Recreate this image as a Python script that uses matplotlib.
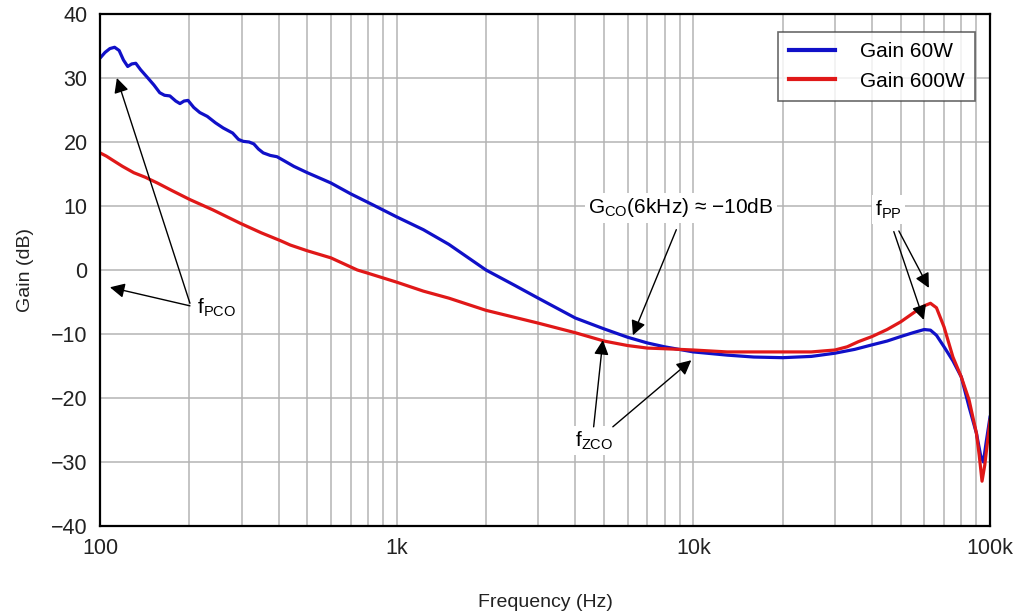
import matplotlib
matplotlib.use("Agg")
import matplotlib.pyplot as plt
from matplotlib.ticker import FixedLocator, FixedFormatter, LogLocator, NullFormatter

plt.rcParams['font.family'] = ['Liberation Sans', 'DejaVu Sans']

# ---- data ----
freq_60w = [100, 104, 108, 112, 116, 120, 124, 128, 132, 137, 145, 152, 159, 165, 172, 180, 186,
            192, 198, 207, 217, 230, 245, 260, 280, 293, 304, 318, 330, 342, 355, 375, 395, 420,
            450, 500, 567, 600, 700, 830, 1000, 1230, 1500, 2000, 2500, 3000, 4000, 5000, 6000,
            7000, 8000, 10000, 13000, 16000, 20000, 25000, 30000, 35000, 40000, 45000, 50000,
            55000, 60000, 63000, 66000, 70000, 75000, 80000, 85000, 90000, 93000, 95000, 97000,
            100000]
gain_60w = [33.1, 34.0, 34.6, 34.8, 34.3, 32.8, 31.8, 32.2, 32.3, 31.3, 30.0, 28.9, 27.7, 27.3,
            27.2, 26.4, 26.0, 26.4, 26.5, 25.4, 24.6, 24.0, 23.0, 22.2, 21.4, 20.4, 20.1, 20.0,
            19.7, 18.9, 18.3, 17.9, 17.7, 17.0, 16.2, 15.2, 14.1, 13.6, 11.9, 10.2, 8.3, 6.3,
            4.0, 0.0, -2.4, -4.4, -7.5, -9.2, -10.5, -11.4, -12.0, -12.8, -13.3, -13.6, -13.7,
            -13.5, -13.0, -12.4, -11.7, -11.1, -10.4, -9.8, -9.3, -9.4, -10.2, -12.0, -14.2,
            -16.7, -21.4, -25.5, -29.0, -30.0, -27.0, -23.0]

freq_600w = [100, 105, 110, 119, 130, 142, 156, 175, 201, 240, 297, 350, 405, 438, 500, 600, 737,
             800, 1000, 1230, 1500, 2000, 3000, 4000, 5000, 6000, 7000, 8000, 10000, 13000,
             20000, 25000, 30000, 33000, 36000, 40000, 45000, 50000, 56000, 60000, 63000, 66000,
             70000, 75000, 80000, 85000, 90000, 92000, 94000, 96000, 100000]
gain_600w = [18.3, 17.8, 17.2, 16.2, 15.2, 14.5, 13.6, 12.4, 11.0, 9.4, 7.3, 5.8, 4.6, 3.9, 3.0,
             1.9, 0.0, -0.5, -1.9, -3.3, -4.4, -6.3, -8.3, -9.8, -11.1, -11.8, -12.2, -12.3,
             -12.5, -12.8, -12.8, -12.8, -12.5, -12.0, -11.2, -10.4, -9.3, -8.1, -6.5, -5.6,
             -5.2, -5.9, -8.9, -13.6, -16.7, -20.3, -25.5, -29.0, -33.0, -30.5, -23.5]

x_ticks = [100, 1000, 10000, 100000]
x_tick_labels = ["100", "1k", "10k", "100k"]
y_ticks = [-40, -30, -20, -10, 0, 10, 20, 30, 40]
y_tick_labels = ["\u221240", "\u221230", "\u221220", "\u221210", "0", "10", "20", "30", "40"]

# ---- figure ----
fig = plt.figure(figsize=(10.13, 6.16), dpi=100)
ax = fig.add_axes([100/1013, 1-526/616, 890/1013, 512/616])

ax.semilogx(freq_60w, gain_60w, color='#1010c8', lw=2.3, label='Gain 60W', zorder=3)
ax.semilogx(freq_600w, gain_600w, color='#e01818', lw=2.3, label='Gain 600W', zorder=3)

ax.set_xlim(100, 100000)
ax.set_ylim(-40, 40)
ax.xaxis.set_major_locator(FixedLocator(x_ticks))
ax.xaxis.set_major_formatter(FixedFormatter(x_tick_labels))
ax.xaxis.set_minor_locator(LogLocator(base=10, subs=range(2, 10)))
ax.xaxis.set_minor_formatter(NullFormatter())
ax.yaxis.set_major_locator(FixedLocator(y_ticks))
ax.yaxis.set_major_formatter(FixedFormatter(y_tick_labels))

ax.grid(True, which='major', color='#b4b4b4', lw=1.1)
ax.grid(True, which='minor', axis='x', color='#b4b4b4', lw=1.1)
ax.tick_params(which='both', length=0, labelsize=15.5, pad=9, colors='#222222')
for s in ax.spines.values():
    s.set_color('black')
    s.set_linewidth(1.6)
    s.set_zorder(5)

ax.set_xlabel('Frequency (Hz)', fontsize=14, labelpad=25, color='#222222')
ax.set_ylabel('Gain (dB)', fontsize=14, labelpad=12, color='#222222')

leg = ax.legend(loc='upper right', bbox_to_anchor=(0.983, 0.965), fontsize=15, frameon=True,
                fancybox=False, edgecolor='#444444', handlelength=2.2, handletextpad=1.2,
                borderpad=0.5, labelspacing=0.5, borderaxespad=0)
leg.get_frame().set_linewidth(1.2)
for h in leg.get_lines():
    h.set_linewidth(3)

arrow = dict(arrowstyle='-|>', mutation_scale=22, lw=1.0, color='black', shrinkA=0, shrinkB=0)
bbox = dict(boxstyle='square,pad=0.15', fc='white', ec='none')

# fPCO
ax.text(213, -5.9, r'f$_{\mathregular{PCO}}$', fontsize=15, ha='left', va='center', bbox=bbox, zorder=4)
ax.annotate('', xy=(114, 30.0), xytext=(201, -5.2), arrowprops=arrow, zorder=4)
ax.annotate('', xy=(108, -2.7), xytext=(201, -5.6), arrowprops=arrow, zorder=4)

# Gco
ax.text(9100, 9.7, 'G$_{\\mathregular{CO}}$(6kHz) \u2248 \u221210dB',
        fontsize=15, ha='center', va='center', bbox=bbox, zorder=4)
ax.annotate('', xy=(6256, -10.2), xytext=(8763, 6.3), arrowprops=arrow, zorder=4)

# fPP
ax.text(45500, 9.4, r'f$_{\mathregular{PP}}$', fontsize=15, ha='center', va='center', bbox=bbox, zorder=4)
ax.annotate('', xy=(62230, -2.8), xytext=(49300, 6.1), arrowprops=arrow, zorder=4)
ax.annotate('', xy=(59800, -7.8), xytext=(47400, 6.0), arrowprops=arrow, zorder=4)

# fZCO
ax.text(4625, -26.6, r'f$_{\mathregular{ZCO}}$', fontsize=15, ha='center', va='center', bbox=bbox, zorder=4)
ax.annotate('', xy=(4955, -10.95), xytext=(4613, -24.5), arrowprops=arrow, zorder=4)
ax.annotate('', xy=(9845, -14.1), xytext=(5354, -24.5), arrowprops=arrow, zorder=4)

fig.savefig('out.png', dpi=100)
